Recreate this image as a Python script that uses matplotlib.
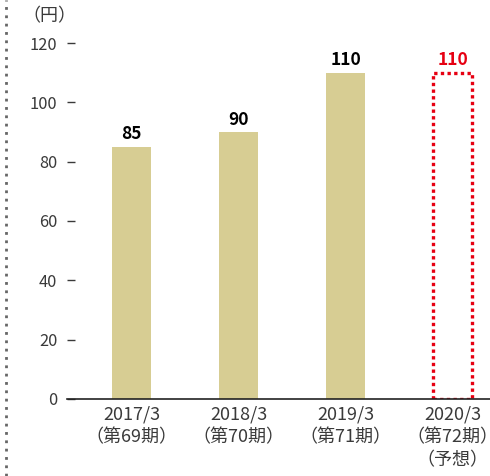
import numpy as np
import matplotlib.pyplot as plt
from matplotlib.lines import Line2D

plt.rcParams['font.family'] = ['Noto Sans CJK JP', 'DejaVu Sans']

periods = ['2017/3\n（第69期）', '2018/3\n（第70期）', '2019/3\n（第71期）', '2020/3\n（第72期）\n（予想）']
dividends = [85, 90, 110, 110]
forecast = [False, False, False, True]
yticks = [0, 20, 40, 60, 80, 100, 120]

bar_color = '#d7cd93'
red = '#e60012'
text_color = '#3a3a3a'

fig = plt.figure(figsize=(4.9, 4.76), dpi=100)
ax = fig.add_axes([0.1367, 0.1618, 0.8633, 0.779])

x = np.arange(len(dividends))
for xi, v, f in zip(x, dividends, forecast):
    if f:
        ax.bar(xi, v, width=0.36, facecolor='none', edgecolor=red,
               linestyle=(0, (1, 1)), linewidth=2.4)
        c = red
    else:
        ax.bar(xi, v, width=0.36, color=bar_color)
        c = 'black'
    ax.annotate(str(v), (xi, v), xytext=(0, 2.5), textcoords='offset points',
                ha='center', va='bottom', fontsize=12.5, fontweight='bold',
                color=c)

ax.set_xlim(-0.603, 3.35)
ax.set_ylim(0, 125)
ax.set_yticks(yticks)
ax.set_xticks(x)
ax.set_xticklabels(periods, fontsize=13, color=text_color, linespacing=1.35)
ax.tick_params(axis='y', direction='in', length=6, width=1, color=text_color,
               labelsize=11.8, labelcolor=text_color, pad=7)
ax.tick_params(axis='x', length=0, pad=4.5)
for s in ['top', 'right', 'left']:
    ax.spines[s].set_visible(False)
ax.spines['bottom'].set_color('#222222')
ax.spines['bottom'].set_linewidth(1.2)

fig.text(0.1, 0.966, '（円）', fontsize=13, color=text_color, ha='center', va='center')

fig.add_artist(Line2D([0.012, 0.012], [0.0, 1.0], transform=fig.transFigure,
                      color='#666666', linestyle=(0, (1, 2)), linewidth=2))

fig.savefig('out.png', dpi=100)
